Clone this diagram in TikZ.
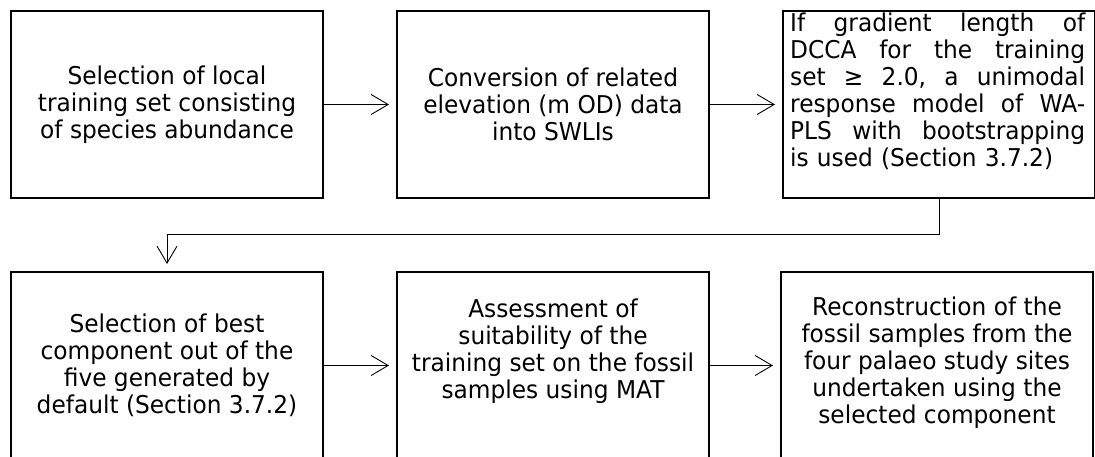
\documentclass[tikz,border=0pt]{standalone}
\usepackage{fontspec}
\setmainfont{DejaVu Sans}[FakeStretch=0.95]
\usetikzlibrary{arrows.meta}
\newcommand{\boxfont}{\fontsize{24.5}{27}\selectfont}
\newcommand{\jline}[1]{\makebox[295pt][l]{#1}}
\begin{document}
\begin{tikzpicture}[x=1pt,y=-1pt,
  box/.style={draw, line width=2pt, minimum width=312pt, minimum height=187pt,
              inner sep=0pt, align=center, font=\boxfont},
  para/.style={anchor=north west, inner sep=0pt, text width=295pt, align=left, font=\boxfont},
  arr/.style={line width=0.9pt, shorten >=7pt,
              -{Straight Barb[length=17pt,width=20pt,line width=0.9pt]}}]
\useasboundingbox (0,0) rectangle (1095,457);

% first row
\node[box] (b1) at (167,104.5) {Selection of local\\training set consisting\\of species abundance};
\node[box] (b2) at (553,104.5) {Conversion of related\\elevation (m OD) data\\into SWLIs};
\node[box] (b3) at (939,104.5) {};
% justified paragraph, set line by line
\node[para] (t3) at (790,12.5) {%
  \jline{If\hfill gradient\hfill length\hfill of}\\
  \jline{DCCA\hfill for\hfill the\hfill training}\\
  \jline{set\hfill ≥\hfill 2.0,\hfill a\hfill unimodal}\\
  \jline{response\hfill model\hfill of\hfill WA-}\\
  \jline{PLS\hfill with\hfill bootstrapping}\\
  is used (Section 3.7.2)};

% second row (runs off the lower edge)
\node[box] (b4) at (167,365.5) {Selection of best\\component out of the\\five generated by\\default (Section 3.7.2)};
\node[box, text depth=34pt] (b5) at (553,365.5) {Assessment of\\suitability of the\\training set on the fossil\\samples using MAT};
\node[box, text depth=10pt] (b6) at (937,365.5) {Reconstruction of the\\fossil samples from the\\four palaeo study sites\\undertaken using the\\selected component};

% connectors
\coordinate (bend) at (0,234);
\draw[arr] (b1.east) -- (b2.west);
\draw[arr] (b2.east) -- (b3.west);
\draw[arr] (b3.south) -- (b3.south |- bend) -| (b4.north);
\draw[arr] (b4.east) -- (b5.west);
\draw[arr] (b5.east) -- (b6.west);
\end{tikzpicture}
\end{document}
